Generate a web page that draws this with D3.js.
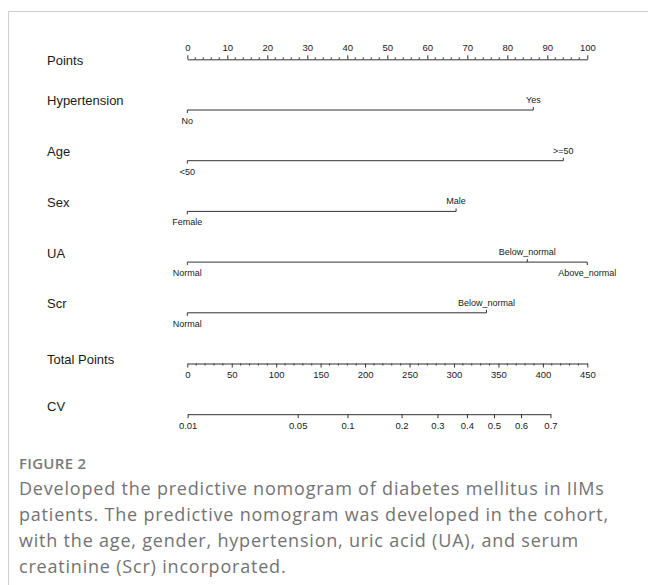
<!DOCTYPE html>
<html>
<head>
<meta charset="utf-8">
<script src="https://cdn.jsdelivr.net/npm/d3@7"></script>
<style>
  body { margin: 0; background: #fff; }
  svg { display: block; }
</style>
</head>
<body>
<script>
// ----- data ----- //
const pointTicks = d3.range(0, 101, 10);
const pointMinor = d3.range(0, 101, 2);
const totalTicks = d3.range(0, 451, 50);
const totalMinor = d3.range(0, 451, 10);
const cvTicks = [0.01, 0.05, 0.1, 0.2, 0.3, 0.4, 0.5, 0.6, 0.7];

const varNames = ["Hypertension", "Age", "Sex", "UA", "Scr"];
const varLevels = [
  ["No", "Yes"],
  ["<50", ">=50"],
  ["Female", "Male"],
  ["Normal", "Below_normal", "Above_normal"],
  ["Normal", "Below_normal"]
];
const varPoints = [
  [0, 86.5],
  [0, 94],
  [0, 67.2],
  [0, 85, 100],
  [0, 74.8]
];

// linear predictor = intercept + slope * total points
const lpIntercept = -4.60;
const lpSlope = 1 / 75;

const captionTitle = "FIGURE 2";
const captionLines = [
  "Developed the predictive nomogram of diabetes mellitus in IIMs",
  "patients. The predictive nomogram was developed in the cohort,",
  "with the age, gender, hypertension, uric acid (UA), and serum",
  "creatinine (Scr) incorporated."
];

// ----- layout ----- //
const W = 648, H = 585;
const x0 = 187.3, x1 = 587.3;
const rowTop = 59.3, rowStep = 50.7;
const rowY = i => rowTop + i * rowStep;
const labelX = 47;
const labelFont = "'Liberation Sans', Arial, Helvetica, sans-serif";
const ink = "#1a1a1a";

const svg = d3.select("body").append("svg")
  .attr("width", W)
  .attr("height", H);

// frame (open on right and bottom)
svg.append("path")
  .attr("d", `M8.5,${H} V11.5 H${W}`)
  .attr("fill", "none")
  .attr("stroke", "#cfcfcf")
  .attr("stroke-width", 1);

const x = d3.scaleLinear().domain([0, 100]).range([x0, x1]);
const xt = d3.scaleLinear().domain([0, 450]).range([x0, x1]);
const logit = p => Math.log(p / (1 - p));
const xcv = p => xt((logit(p) - lpIntercept) / lpSlope);

const g = svg.append("g");

function rowLabel(text, y) {
  g.append("text")
    .attr("x", labelX)
    .attr("y", y)
    .style("font-family", labelFont)
    .style("font-size", "13px")
    .attr("fill", ink)
    .text(text);
}

function styleAxis(sel) {
  sel.attr("font-family", null).attr("font-size", null)
     .style("font-family", labelFont).style("font-size", "9.5px");
  sel.select(".domain").attr("stroke", "#333");
  sel.selectAll(".tick line").attr("stroke", "#333");
  sel.selectAll(".tick text").attr("fill", ink);
}

// ----- Points axis ----- //
rowLabel("Points", rowY(0) + 5.4);
const ptsG = g.append("g").attr("transform", `translate(0,${rowY(0)})`);
ptsG.call(d3.axisTop(x).tickValues(pointTicks).tickSize(4).tickSizeOuter(0).tickPadding(4))
    .call(styleAxis);
ptsG.selectAll(".minor").data(pointMinor.filter(d => d % 10 !== 0)).enter()
  .append("line")
  .attr("class", "minor")
  .attr("x1", d => x(d)).attr("x2", d => x(d))
  .attr("y1", 0).attr("y2", -2)
  .attr("stroke", "#333");

// ----- predictor rows ----- //
varNames.forEach((name, i) => {
  const y = rowY(i + 1);
  rowLabel(name, y - 4.6);
  const pts = varPoints[i];
  const row = g.append("g").attr("transform", `translate(0,${y})`);
  row.append("line")
    .attr("x1", x(d3.min(pts))).attr("x2", x(d3.max(pts)))
    .attr("y1", 0).attr("y2", 0)
    .attr("stroke", "#333");
  const lv = row.selectAll(".lvl").data(varLevels[i]).enter()
    .append("g").attr("class", "lvl")
    .attr("transform", (d, j) => `translate(${x(pts[j])},0)`);
  // labels alternate: first below, second above, ...
  lv.append("line")
    .attr("y1", 0)
    .attr("y2", (d, j) => j % 2 === 0 ? 3 : -3)
    .attr("stroke", "#333");
  lv.append("text")
    .attr("y", (d, j) => j % 2 === 0 ? 14 : -7)
    .attr("text-anchor", "middle")
    .style("font-family", labelFont)
    .style("font-size", "9px")
    .attr("fill", ink)
    .text(d => d);
});

// ----- Total Points axis ----- //
rowLabel("Total Points", rowY(6) + 0.2);
const totG = g.append("g").attr("transform", `translate(0,${rowY(6)})`);
totG.call(d3.axisBottom(xt).tickValues(totalTicks).tickSize(4).tickSizeOuter(0).tickPadding(4))
    .call(styleAxis);
totG.selectAll(".minor").data(totalMinor.filter(d => d % 50 !== 0)).enter()
  .append("line")
  .attr("class", "minor")
  .attr("x1", d => xt(d)).attr("x2", d => xt(d))
  .attr("y1", 0).attr("y2", 2)
  .attr("stroke", "#333");

// ----- CV axis ----- //
rowLabel("CV", rowY(7) - 3.5);
const cvScale = d3.scaleLinear()
  .domain(cvTicks.map(logit))
  .range(cvTicks.map(xcv));
const cvG = g.append("g").attr("transform", `translate(0,${rowY(7)})`);
cvG.call(d3.axisBottom(cvScale)
      .tickValues(cvTicks.map(logit))
      .tickFormat((d, i) => cvTicks[i])
      .tickSize(4).tickSizeOuter(0).tickPadding(4))
   .call(styleAxis);

// ----- caption ----- //
svg.append("text")
  .attr("x", 19)
  .attr("y", 469)
  .style("font-family", "'Open Sans', sans-serif")
  .style("font-size", "15px")
  .style("font-weight", 600)
  .style("letter-spacing", "0.3px")
  .attr("fill", "#7a7a7a")
  .text(captionTitle);

svg.append("g").selectAll("text").data(captionLines).enter()
  .append("text")
  .attr("x", 19)
  .attr("y", (d, i) => 495 + i * 26)
  .style("font-family", "'Open Sans', sans-serif")
  .style("font-size", "18px")
  .style("letter-spacing", "0.8px")
  .attr("fill", "#737373")
  .text(d => d);
</script>
</body>
</html>
